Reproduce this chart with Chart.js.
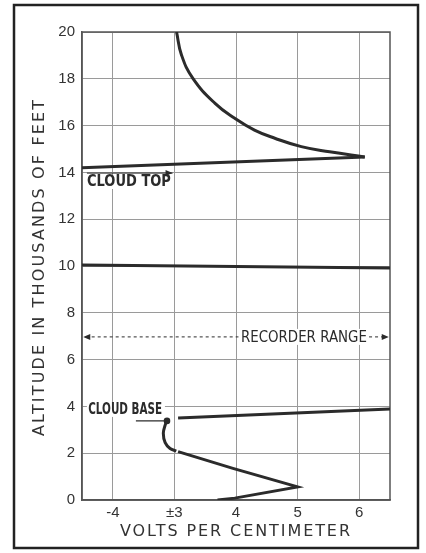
<!DOCTYPE html>
<html>
<head>
<meta charset="utf-8">
<script src="https://cdn.jsdelivr.net/npm/chart.js@4"></script>
<style>
html, body { margin: 0; padding: 0; background: #fff; }
#wrap { position: relative; width: 426px; height: 553px; }
</style>
</head>
<body>
<div id="wrap"><canvas id="chart_altitude" width="426" height="553"></canvas></div>
<script>
/***
data
****/
const xTickValues = [2, 3, 4, 5, 6];
const xTickLabels = ['-4', '±3', '4', '5', '6'];
const yTickValues = [0, 2, 4, 6, 8, 10, 12, 14, 16, 18, 20];
/* curves, [x, y] in axis units */
const topCurve  = [[3.035, 20], [3.115, 19.02], [3.3, 18.02], [3.66, 16.95], [3.98, 16.31], [4.3, 15.81], [4.63, 15.46], [5.06, 15.1], [5.52, 14.88], [6.09, 14.66]];
const topLine   = [[6.09, 14.66], [1.5, 14.2]];
const line10    = [[1.5, 10.04], [6.5, 9.91]];
const bottomZig = [[3.7, 0], [3.98, 0.08], [5.0, 0.56], [3.95, 1.35], [3.06, 2.07]];
const hook      = [[3.03, 2.09], [2.93, 2.2], [2.85, 2.45], [2.82, 2.85], [2.85, 3.2], [2.88, 3.38]];
const baseLine  = [[3.06, 3.5], [6.5, 3.89]];

/*****
setting
******/
const ink      = '#2b2b2b';
const gridInk  = '#9a9a9a';
const toPoints = (arr)=> arr.map(p => ({x: p[0], y: p[1]}));
const makeSet  = (arr, tension)=>({
    data: toPoints(arr),
    showLine: true,
    borderColor: ink,
    backgroundColor: ink,
    borderWidth: 3,
    pointRadius: 0,
    tension: tension,
    fill: false
});

/* text spread to a given pixel width (letter spacing) */
const fitText = (ctx, text, left, y, width, font)=>{
    ctx.font = font;
    ctx.letterSpacing = '0px';
    let w  = ctx.measureText(text).width;
    let sp = (width - w) / (text.length - 1);
    ctx.letterSpacing = sp + 'px';
    ctx.textAlign = 'left';
    ctx.textBaseline = 'middle';
    ctx.fillText(text, left, y);
    ctx.letterSpacing = '0px';
};

/* text squeezed to a given pixel width (horizontal scale) */
const squeezeText = (ctx, text, left, y, width, font)=>{
    ctx.save();
    ctx.font = font;
    ctx.textAlign = 'left';
    ctx.textBaseline = 'middle';
    let w = ctx.measureText(text).width;
    ctx.translate(left, y);
    ctx.scale(width / w, 1);
    ctx.fillText(text, 0, 0);
    ctx.restore();
};

const arrowHead = (ctx, x, y, dir)=>{
    ctx.beginPath();
    ctx.moveTo(x, y);
    ctx.lineTo(x - dir * 7, y - 3);
    ctx.lineTo(x - dir * 7, y + 3);
    ctx.closePath();
    ctx.fill();
};

/* frame, border, titles and notes */
const frame = {
    id: 'frame',
    beforeDatasetsDraw(chart){
        let ctx = chart.ctx, a = chart.chartArea;
        ctx.save();
        ctx.strokeStyle = '#555';
        ctx.lineWidth = 1.5;
        ctx.strokeRect(a.left, a.top, a.right - a.left, a.bottom - a.top);
        ctx.restore();
    },
    afterDraw(chart){
        let ctx = chart.ctx;
        let x = chart.scales.x, y = chart.scales.y;
        ctx.save();
        /* outer border */
        ctx.strokeStyle = '#222';
        ctx.lineWidth = 2.5;
        ctx.strokeRect(14, 5, 404, 543);
        ctx.fillStyle = '#333';
        /* axis titles */
        fitText(ctx, 'VOLTS PER CENTIMETER', 120, 532, 230, '16px "DejaVu Sans"');
        ctx.translate(40, 268);
        ctx.rotate(-Math.PI / 2);
        fitText(ctx, 'ALTITUDE IN THOUSANDS OF FEET', -168, 0, 336, '16px "DejaVu Sans"');
        ctx.restore();

        ctx.save();
        ctx.strokeStyle = ink;
        /* cloud top */
        let ctY = y.getPixelForValue(13.59);
        ctx.fillStyle = '#fff';
        ctx.fillRect(x.getPixelForValue(1.56), ctY - 7, 86, 14);
        ctx.fillStyle = ink;
        squeezeText(ctx, 'CLOUD TOP', x.getPixelForValue(1.58), ctY, 84, 'bold 15px "DejaVu Sans"');
        let arY = y.getPixelForValue(13.97);
        ctx.lineWidth = 1;
        ctx.beginPath();
        ctx.moveTo(x.getPixelForValue(1.58), arY);
        ctx.lineTo(x.getPixelForValue(2.97), arY);
        ctx.stroke();
        arrowHead(ctx, x.getPixelForValue(2.97), arY, 1);
        /* cloud base */
        let cbY = y.getPixelForValue(3.85);
        ctx.fillStyle = '#fff';
        ctx.fillRect(x.getPixelForValue(1.58), cbY - 7, 78, 14);
        ctx.fillStyle = ink;
        squeezeText(ctx, 'CLOUD BASE', x.getPixelForValue(1.6), cbY, 74, 'bold 15px "DejaVu Sans"');
        let ldY = y.getPixelForValue(3.38);
        ctx.lineWidth = 1.2;
        ctx.beginPath();
        ctx.moveTo(x.getPixelForValue(2.375), ldY);
        ctx.lineTo(x.getPixelForValue(2.88), ldY);
        ctx.stroke();
        /* recorder range */
        let rrY = y.getPixelForValue(6.97);
        ctx.fillStyle = '#fff';
        ctx.fillRect(x.getPixelForValue(4.06), rrY - 8, x.getPixelForValue(6.14) - x.getPixelForValue(4.06), 16);
        ctx.fillStyle = ink;
        squeezeText(ctx, 'RECORDER RANGE', x.getPixelForValue(4.08), rrY + 1, 126, '15px "DejaVu Sans"');
        ctx.lineWidth = 1;
        ctx.setLineDash([3, 3]);
        ctx.beginPath();
        ctx.moveTo(x.getPixelForValue(1.56), rrY);
        ctx.lineTo(x.getPixelForValue(4.04), rrY);
        ctx.moveTo(x.getPixelForValue(6.16), rrY);
        ctx.lineTo(x.getPixelForValue(6.45), rrY);
        ctx.stroke();
        ctx.setLineDash([]);
        arrowHead(ctx, x.getPixelForValue(1.52), rrY, -1);
        arrowHead(ctx, x.getPixelForValue(6.48), rrY, 1);
        ctx.restore();
    }
};

/**********
make chart
***********/
const ctx_altitude = document.querySelector('#chart_altitude').getContext('2d');
const hookSet = makeSet(hook, 0.4);
hookSet.pointRadius = (c)=> c.dataIndex === hook.length - 1 ? 1.8 : 0;

const chart_altitude = new Chart(ctx_altitude, {
    type: 'scatter',
    data: {
        datasets: [
            makeSet(topCurve, 0.45),
            makeSet(topLine, 0),
            makeSet(line10, 0),
            makeSet(bottomZig, 0),
            hookSet,
            makeSet(baseLine, 0)
        ]
    },
    options: {
        responsive: false,
        animation: false,
        layout: { padding: { top: 32, right: 36, left: 0, bottom: 0 } },
        plugins: {
            legend: { display: false },
            tooltip: { enabled: false }
        },
        scales: {
            x: {
                type: 'linear',
                min: 1.5,
                max: 6.5,
                afterBuildTicks: (s)=>{ s.ticks = xTickValues.map(v => ({value: v})); },
                afterFit: (s)=>{ s.height = 53; },
                ticks: {
                    callback: (v)=> xTickLabels[xTickValues.indexOf(v)],
                    font: { family: 'Liberation Sans', size: 15 },
                    color: '#333',
                    padding: 4,
                    maxRotation: 0,
                    autoSkip: false
                },
                grid: { color: gridInk, lineWidth: 1, drawTicks: false },
                border: { color: '#555', width: 1.5 }
            },
            y: {
                type: 'linear',
                min: 0,
                max: 20,
                afterBuildTicks: (s)=>{ s.ticks = yTickValues.map(v => ({value: v})); },
                afterFit: (s)=>{ s.width = 82; },
                ticks: {
                    font: { family: 'Liberation Sans', size: 15 },
                    color: '#333',
                    padding: 7
                },
                grid: { color: gridInk, lineWidth: 1, drawTicks: false },
                border: { color: '#555', width: 1.5 }
            }
        }
    },
    plugins: [frame]
});
</script>
</body>
</html>
